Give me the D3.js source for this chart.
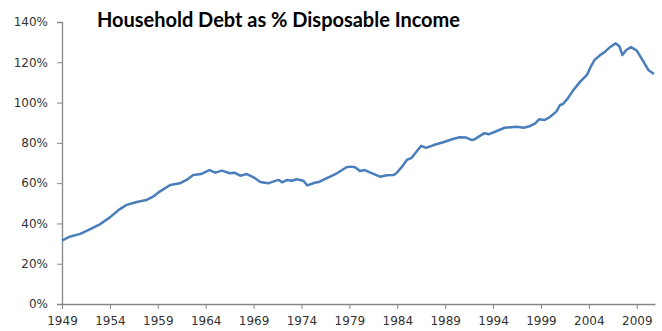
<!DOCTYPE html>
<html>
<head>
<meta charset="utf-8">
<script src="https://cdn.jsdelivr.net/npm/d3@7"></script>
<style>
 body { margin: 0; background: #fff; }
 svg { display: block; }
</style>
</head>
<body>
<div id="chart"></div>
<script>
// values (decimal year, % of disposable income)
var years = [1949.0, 1949.8, 1950.9, 1951.9, 1953.0, 1954.0, 1955.0, 1955.75, 1956.8, 1957.8,
  1958.5, 1959.2, 1960.3, 1961.3, 1962.0, 1962.7, 1963.5, 1964.4, 1965.0, 1965.7,
  1966.5, 1967.0, 1967.6, 1968.3, 1969.0, 1969.7, 1970.5, 1971.6, 1972.0, 1972.5,
  1973.0, 1973.5, 1974.2, 1974.6, 1975.4, 1975.9, 1976.6, 1977.7, 1978.7, 1979.1,
  1979.6, 1980.1, 1980.6, 1981.2, 1982.2, 1982.9, 1983.6, 1983.9, 1984.5, 1985.0,
  1985.5, 1986.0, 1986.5, 1987.0, 1987.8, 1988.8, 1989.8, 1990.5, 1991.2, 1991.8,
  1992.1, 1992.5, 1993.1, 1993.6, 1994.4, 1995.2, 1996.5, 1997.2, 1997.9, 1998.4,
  1998.8, 1999.4, 1999.9, 2000.6, 2001.0, 2001.3, 2001.8, 2002.4, 2003.1, 2003.8,
  2004.2, 2004.6, 2005.2, 2005.7, 2006.2, 2006.8, 2007.2, 2007.5, 2007.9, 2008.4,
  2009.0, 2009.7, 2010.2, 2010.8];
var debt = [31.5, 33.4, 34.8, 37.1, 39.7, 43.0, 47.0, 49.2, 50.6, 51.6,
  53.3, 55.8, 59.1, 59.9, 61.6, 64.0, 64.5, 66.5, 65.2, 66.2,
  64.9, 65.2, 63.7, 64.5, 62.9, 60.6, 59.9, 61.6, 60.4, 61.6,
  61.2, 61.9, 61.2, 58.9, 60.2, 60.7, 62.4, 64.9, 67.9, 68.2,
  67.9, 66.0, 66.5, 65.2, 63.2, 63.9, 64.0, 64.9, 68.2, 71.5,
  72.6, 75.6, 78.5, 77.5, 78.9, 80.3, 81.9, 82.8, 82.6, 81.4,
  81.8, 83.1, 84.8, 84.3, 85.9, 87.5, 88.0, 87.5, 88.4, 89.7,
  91.7, 91.4, 92.7, 95.5, 98.8, 99.3, 102.1, 106.3, 110.4, 113.7,
  117.8, 121.2, 123.6, 125.3, 127.5, 129.4, 127.8, 123.6, 126.1, 127.5,
  125.8, 120.3, 116.2, 114.2];
var yearTicks = [1949, 1954, 1959, 1964, 1969, 1974, 1979, 1984, 1989, 1994, 1999, 2004, 2009];
var pctTicks = [0, 20, 40, 60, 80, 100, 120, 140];
var title = "Household Debt as % Disposable Income";

var W = 662, H = 331;
var svg = d3.select('#chart').append('svg').attr('width', W).attr('height', H);
svg.append('rect').attr('width', W).attr('height', H).attr('fill', '#fff');

var x = d3.scaleLinear().domain([1949, 2010.8]).range([62, 654]);
var y = d3.scaleLinear().domain([0, 140]).range([304, 22]);

var axisColor = '#868686';

// y axis
var ya = svg.append('g').attr('transform', 'translate(62,0)')
  .call(d3.axisLeft(y).tickValues(pctTicks).tickSize(5).tickPadding(9)
    .tickFormat(function(d) { return d + '%'; }));
// x axis
var xa = svg.append('g').attr('transform', 'translate(0,304)')
  .call(d3.axisBottom(x).tickValues(yearTicks).tickSize(5).tickPadding(7)
    .tickFormat(d3.format('d')));

[ya, xa].forEach(function(g) {
  g.select('.domain').attr('stroke', axisColor).attr('stroke-width', 1.3);
  g.selectAll('.tick line').attr('stroke', axisColor);
  g.selectAll('.tick text').attr('fill', '#333')
    .style('font-family', 'DejaVu Sans, Verdana, sans-serif').style('font-size', '12px');
});
// x domain line extends a bit past data
xa.select('.domain').attr('d', 'M62,0.5H655.5');

var line = d3.line()
  .x(function(d, i) { return x(years[i]); })
  .y(function(d) { return y(d); })
  .curve(d3.curveLinear);

svg.append('path')
  .datum(debt)
  .attr('d', line)
  .attr('fill', 'none')
  .attr('stroke', '#4a7ebb')
  .attr('stroke-width', 2.5)
  .attr('stroke-linejoin', 'round');

svg.append('text')
  .attr('x', 97).attr('y', 27)
  .style('font-family', 'Lato, "Open Sans", sans-serif')
  .style('font-weight', 'bold')
  .style('font-size', '20px')
  .attr('textLength', 363)
  .attr('fill', '#000')
  .text(title);
</script>
</body>
</html>
